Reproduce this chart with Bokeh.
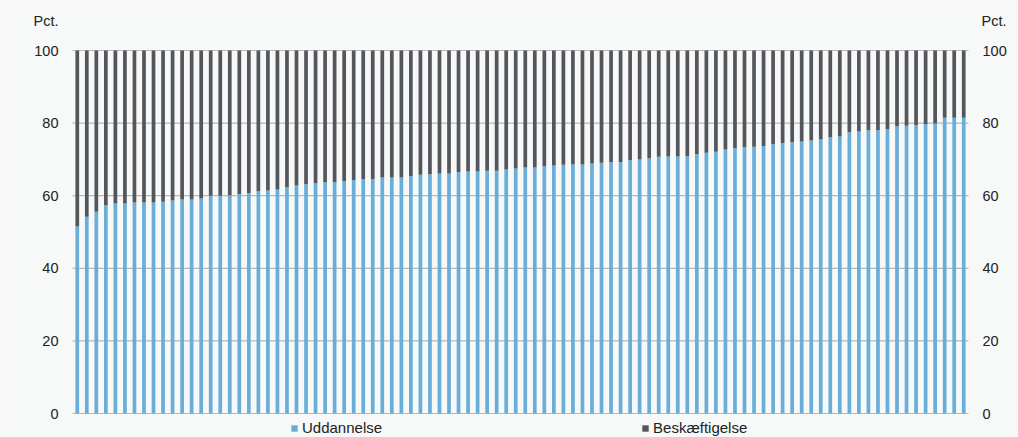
from bokeh.plotting import figure
from bokeh.models import ColumnDataSource, Range1d, Legend, LegendItem
from bokeh.core.properties import value
from bokeh.embed import file_html
from bokeh.resources import INLINE

# Share of young people in education (Uddannelse) vs employment (Beskæftigelse), pct.
uddannelse = [
    51.5, 54.2, 55.6, 57.4, 57.85, 57.85, 58.1, 58.1, 58.1, 58.3,
    58.7, 58.95, 58.95, 59.2, 60.0, 60.0, 60.1, 60.5, 60.7, 61.2,
    61.4, 61.7, 62.3, 62.8, 63.2, 63.4, 63.7, 63.7, 64.0, 64.3,
    64.5, 64.5, 65.0, 65.0, 65.0, 65.4, 65.8, 65.9, 66.1, 66.1,
    66.5, 66.7, 66.7, 66.9, 66.9, 67.2, 67.5, 67.8, 67.8, 68.1,
    68.3, 68.5, 68.6, 68.6, 68.9, 69.1, 69.2, 69.3, 69.8, 70.0,
    70.3, 70.7, 70.8, 70.8, 70.9, 71.4, 71.8, 72.1, 72.7, 73.1,
    73.4, 73.5, 73.7, 74.2, 74.5, 74.7, 74.9, 75.2, 75.5, 76.2,
    76.3, 77.5, 77.7, 78.0, 78.0, 78.3, 79.1, 79.3, 79.5, 79.7,
    79.9, 81.5, 81.5, 81.5,
]
beskaeftigelse = [round(100 - u, 2) for u in uddannelse]
categories = list(range(len(uddannelse)))
y_ticks = [0, 20, 40, 60, 80, 100]
y_tick_labels = [str(t) for t in y_ticks]
unit_label = "Pct."

BLUE = "#68aed8"
DARK = "#55565b"
BG = "#f7f8f8"
GRID = "#b9b9b9"
TEXT = "#222222"
FONT = "Liberation Sans"

W, H = 1018, 437
PL, PR, PT, PB = 72, 50, 50, 24          # plot-area margins in pixels
n = len(categories)
xs = (W - PL - PR) / n                    # px per category
ys = (H - PT - PB) / 100.0                # px per pct
x0, x1 = -0.5, n - 0.5

src = ColumnDataSource(dict(x=categories, udd=uddannelse, besk=beskaeftigelse))

p = figure(width=W, height=H, output_backend="svg", toolbar_location=None,
           x_range=Range1d(x0 - PL / xs, x1 + PR / xs),
           y_range=Range1d(-PB / ys, 100 + PT / ys),
           min_border=0)
p.background_fill_color = BG
p.border_fill_color = BG
p.outline_line_color = None
p.axis.visible = False
p.grid.visible = False

# gridlines across the plot area only
p.segment(x0=[x0] * len(y_ticks), x1=[x1] * len(y_ticks), y0=y_ticks, y1=y_ticks,
          line_color=GRID, line_width=1.2)

r = p.vbar_stack(["udd", "besk"], x="x", width=0.39, source=src,
                 color=[BLUE, DARK], line_color=None)

# tick labels (left and right)
p.text(x=[x0 - 14 / xs] * len(y_ticks), y=y_ticks, text=y_tick_labels,
       text_font=value(FONT), text_font_size="14.5px", text_color=TEXT,
       text_align="right", text_baseline="middle")
p.text(x=[x1 + 14 / xs] * len(y_ticks), y=y_ticks, text=y_tick_labels,
       text_font=value(FONT), text_font_size="14.5px", text_color=TEXT,
       text_align="left", text_baseline="middle")

# unit labels
p.text(x=[x0 - 14 / xs], y=[100 + 30 / ys], text=[unit_label],
       text_font=value(FONT), text_font_size="14.5px", text_color=TEXT,
       text_align="right", text_baseline="middle")
p.text(x=[x1 + 13 / xs], y=[100 + 30 / ys], text=[unit_label],
       text_font=value(FONT), text_font_size="14.5px", text_color=TEXT,
       text_align="left", text_baseline="middle")

legend = Legend(items=[LegendItem(label="Uddannelse", renderers=[r[0]]),
                       LegendItem(label="Beskæftigelse", renderers=[r[1]])],
                orientation="horizontal", location=(290, 1),
                glyph_width=8, glyph_height=8, label_standoff=4, spacing=259,
                padding=0, margin=0, label_height=16,
                label_text_font=FONT, label_text_font_size="15px", label_text_color=TEXT,
                background_fill_alpha=0, border_line_alpha=0)
p.add_layout(legend)

open("out.html", "w").write(file_html(p, INLINE))
